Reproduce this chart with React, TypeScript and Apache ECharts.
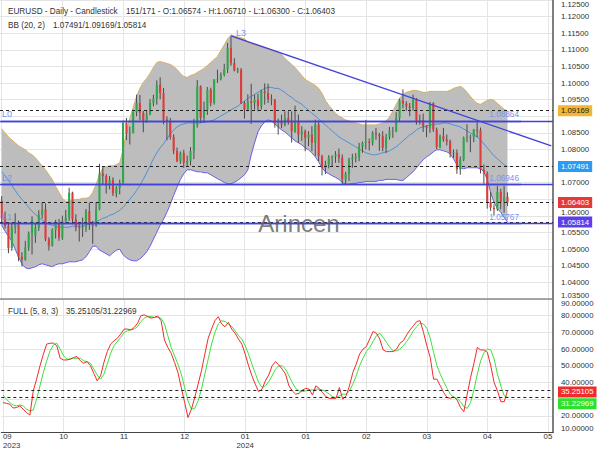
import React, { useEffect, useRef } from 'react';
import * as echarts from 'echarts';

const FONT = "'Liberation Sans', Arial, sans-serif";
const SLOTS = 164;
const TOTAL_SLOTS_LABEL = 171;
const TICK_EVERY = 18;
const xTickLabels = ['09\n2023', '10', '11', '12', '01\n2024', '01', '02', '03', '04', '05'];
// axis tick labels covered by the value boxes in the reference
const hiddenPriceTicks = [1.09, 1.075, 1.065];
const raisedPriceTicks = [1.06];
const hiddenStochTicks = [30];

// [open, close, low, high]
const ohlc: number[][] = [
  [1.0646,1.0592,1.0576,1.0660],[1.0592,1.0570,1.0562,1.0613],[1.0570,1.0503,1.0488,1.0578],[1.0503,1.0566,1.0495,1.0577],[1.0566,1.0573,1.0547,1.0608],
  [1.0573,1.0477,1.0464,1.0586],[1.0477,1.0468,1.0448,1.0491],[1.0468,1.0505,1.0465,1.0525],[1.0505,1.0548,1.0495,1.0553],[1.0548,1.0588,1.0484,1.0599],
  [1.0540,1.0564,1.0519,1.0578],[1.0564,1.0604,1.0555,1.0617],[1.0604,1.0620,1.0592,1.0641],[1.0620,1.0530,1.0524,1.0638],[1.0530,1.0510,1.0496,1.0536],
  [1.0510,1.0557,1.0508,1.0563],[1.0557,1.0577,1.0532,1.0588],[1.0577,1.0535,1.0525,1.0591],[1.0535,1.0585,1.0528,1.0601],[1.0585,1.0595,1.0580,1.0618],
  [1.0595,1.0670,1.0585,1.0685],[1.0670,1.0590,1.0575,1.0673],[1.0590,1.0565,1.0554,1.0605],[1.0565,1.0563,1.0523,1.0578],[1.0563,1.0565,1.0537,1.0595],
  [1.0565,1.0615,1.0552,1.0621],[1.0615,1.0575,1.0558,1.0640],[1.0575,1.0570,1.0516,1.0585],[1.0570,1.0620,1.0567,1.0641],[1.0620,1.0728,1.0617,1.0757],
  [1.0728,1.0720,1.0695,1.0747],[1.0720,1.0697,1.0667,1.0726],[1.0697,1.0709,1.0680,1.0720],[1.0709,1.0668,1.0660,1.0716],[1.0668,1.0684,1.0656,1.0690],
  [1.0684,1.0700,1.0665,1.0709],[1.0700,1.0880,1.0695,1.0887],[1.0880,1.0848,1.0828,1.0895],[1.0848,1.0850,1.0815,1.0869],[1.0850,1.0913,1.0848,1.0915],
  [1.0913,1.0940,1.0900,1.0965],[1.0940,1.0910,1.0888,1.0964],[1.0910,1.0887,1.0852,1.0916],[1.0887,1.0905,1.0880,1.0917],[1.0905,1.0940,1.0903,1.0952],
  [1.0940,1.0953,1.0930,1.0965],[1.0953,1.0995,1.0935,1.1008],[1.0995,1.0970,1.0951,1.1017],[1.0970,1.0890,1.0876,1.0985],[1.0890,1.0884,1.0828,1.0900],
  [1.0884,1.0838,1.0830,1.0895],[1.0838,1.0796,1.0786,1.0846],[1.0796,1.0765,1.0762,1.0806],[1.0765,1.0790,1.0757,1.0794],[1.0790,1.0760,1.0745,1.0799],
  [1.0760,1.0765,1.0748,1.0782],[1.0765,1.0795,1.0752,1.0807],[1.0795,1.0875,1.0771,1.0892],[1.0875,1.0990,1.0866,1.1009],[1.0990,1.0895,1.0880,1.0993],
  [1.0895,1.0920,1.0880,1.0944],[1.0920,1.0980,1.0904,1.0988],[1.0980,1.0940,1.0930,1.0986],[1.0940,1.1010,1.0935,1.1012],[1.1010,1.1012,1.1000,1.1040],
  [1.1012,1.1025,1.1008,1.1032],[1.1025,1.1042,1.1020,1.1058],[1.1042,1.1105,1.1030,1.1121],[1.1105,1.1060,1.1052,1.1140],[1.1060,1.1038,1.1035,1.1075],
  [1.1038,1.1040,1.1030,1.1046],[1.1040,1.0940,1.0937,1.1045],[1.0940,1.0920,1.0893,1.0946],[1.0920,1.0945,1.0915,1.0966],[1.0945,1.0940,1.0877,1.0998],
  [1.0940,1.0950,1.0920,1.0965],[1.0950,1.0930,1.0915,1.0968],[1.0930,1.0975,1.0920,1.0980],[1.0975,1.0970,1.0935,1.0999],[1.0970,1.0950,1.0940,1.0998],
  [1.0950,1.0952,1.0933,1.0966],[1.0950,1.0880,1.0866,1.0952],[1.0880,1.0885,1.0845,1.0893],[1.0885,1.0875,1.0864,1.0905],[1.0875,1.0895,1.0870,1.0915],
  [1.0895,1.0885,1.0875,1.0915],[1.0885,1.0855,1.0821,1.0915],[1.0855,1.0885,1.0850,1.0932],[1.0885,1.0845,1.0820,1.0905],[1.0845,1.0855,1.0826,1.0870],
  [1.0855,1.0835,1.0795,1.0860],[1.0835,1.0845,1.0810,1.0855],[1.0845,1.0820,1.0795,1.0870],[1.0820,1.0875,1.0780,1.0890],[1.0875,1.0780,1.0765,1.0887],
  [1.0780,1.0745,1.0722,1.0784],[1.0745,1.0755,1.0726,1.0766],[1.0755,1.0775,1.0743,1.0783],[1.0775,1.0780,1.0750,1.0782],[1.0780,1.0785,1.0760,1.0795],
  [1.0785,1.0775,1.0760,1.0803],[1.0775,1.0710,1.0696,1.0785],[1.0710,1.0727,1.0695,1.0733],[1.0727,1.0770,1.0705,1.0775],[1.0770,1.0775,1.0745,1.0787],
  [1.0775,1.0777,1.0761,1.0789],[1.0777,1.0808,1.0765,1.0820],[1.0808,1.0820,1.0790,1.0824],[1.0820,1.0823,1.0800,1.0889],[1.0823,1.0820,1.0797,1.0833],
  [1.0820,1.0850,1.0812,1.0855],[1.0850,1.0845,1.0829,1.0865],[1.0845,1.0840,1.0796,1.0850],[1.0840,1.0805,1.0795,1.0855],[1.0805,1.0838,1.0789,1.0847],
  [1.0838,1.0855,1.0830,1.0868],[1.0855,1.0857,1.0835,1.0868],[1.0855,1.0895,1.0852,1.0912],[1.0895,1.0948,1.0885,1.0953],[1.0948,1.0938,1.0924,1.0981],
  [1.0938,1.0930,1.0917,1.0945],[1.0930,1.0925,1.0900,1.0940],[1.0925,1.0950,1.0917,1.0965],[1.0950,1.0883,1.0875,1.0955],[1.0883,1.0888,1.0875,1.0905],
  [1.0888,1.0870,1.0853,1.0908],[1.0870,1.0865,1.0837,1.0873],[1.0865,1.0940,1.0850,1.0943],[1.0940,1.0860,1.0853,1.0942],[1.0860,1.0808,1.0801,1.0866],
  [1.0808,1.0840,1.0804,1.0845],[1.0840,1.0830,1.0823,1.0865],[1.0830,1.0825,1.0812,1.0845],[1.0825,1.0790,1.0776,1.0830],[1.0790,1.0792,1.0775,1.0800],
  [1.0790,1.0740,1.0727,1.0800],[1.0740,1.0770,1.0724,1.0779],[1.0770,1.0835,1.0765,1.0839],[1.0835,1.0837,1.0822,1.0876],[1.0837,1.0838,1.0792,1.0845],
  [1.0838,1.0860,1.0822,1.0862],[1.0860,1.0858,1.0837,1.0885],[1.0858,1.0740,1.0728,1.0866],[1.0740,1.0728,1.0697,1.0755],[1.0728,1.0642,1.0622,1.0734],
  [1.0642,1.0625,1.0615,1.0672],[1.0625,1.0620,1.0601,1.0635],[1.0620,1.0672,1.0615,1.0690],[1.0672,1.0643,1.0620,1.0682],[1.0643,1.0657,1.0610,1.0690],
  [1.06574,1.06403,1.06300,1.06710],
];

const bbUpper = [
  1.0862,1.0850,1.0838,1.0829,1.0820,1.0811,1.0805,1.0799,1.0790,1.0784,
  1.0775,1.0763,1.0751,1.0739,1.0724,1.0710,1.0689,1.0671,1.0653,1.0644,
  1.0644,1.0647,1.0650,1.0650,1.0653,1.0653,1.0656,1.0671,1.0695,1.0724,
  1.0745,1.0748,1.0751,1.0751,1.0754,1.0760,1.0799,1.0853,1.0895,1.0927,
  1.0960,1.0984,1.1002,1.1014,1.1029,1.1047,1.1062,1.1065,1.1062,1.1059,
  1.1056,1.1050,1.1041,1.1029,1.1020,1.1017,1.1023,1.1026,1.1032,1.1038,
  1.1044,1.1053,1.1062,1.1071,1.1080,1.1098,1.1115,1.1133,1.1145,1.1142,
  1.1139,1.1136,1.1133,1.1124,1.1118,1.1115,1.1112,1.1109,1.1106,1.1101,
  1.1098,1.1095,1.1092,1.1086,1.1074,1.1065,1.1056,1.1047,1.1035,1.1023,
  1.1011,1.1005,1.0999,1.0993,1.0984,1.0969,1.0948,1.0933,1.0921,1.0909,
  1.0901,1.0895,1.0889,1.0886,1.0883,1.0880,1.0877,1.0874,1.0874,1.0874,
  1.0874,1.0874,1.0877,1.0880,1.0886,1.0898,1.0915,1.0936,1.0954,1.0966,
  1.0972,1.0975,1.0978,1.0978,1.0975,1.0972,1.0972,1.0975,1.0975,1.0975,
  1.0975,1.0975,1.0975,1.0978,1.0984,1.0987,1.0990,1.0984,1.0972,1.0960,
  1.0948,1.0939,1.0936,1.0942,1.0948,1.0951,1.0948,1.0939,1.0930,1.0921,
  1.09169,
];

const bbMid = [
  1.0733,1.0721,1.0707,1.0692,1.0677,1.0662,1.0650,1.0638,1.0626,1.0614,
  1.0605,1.0596,1.0587,1.0581,1.0575,1.0572,1.0569,1.0566,1.0566,1.0566,
  1.0566,1.0569,1.0569,1.0569,1.0569,1.0572,1.0575,1.0578,1.0584,1.0587,
  1.0593,1.0596,1.0602,1.0605,1.0611,1.0617,1.0626,1.0638,1.0650,1.0662,
  1.0677,1.0692,1.0710,1.0730,1.0751,1.0772,1.0790,1.0805,1.0817,1.0832,
  1.0847,1.0859,1.0868,1.0874,1.0877,1.0880,1.0880,1.0880,1.0880,1.0880,
  1.0883,1.0883,1.0886,1.0889,1.0895,1.0901,1.0907,1.0913,1.0919,1.0925,
  1.0930,1.0939,1.0945,1.0954,1.0960,1.0966,1.0972,1.0978,1.0984,1.0987,
  1.0987,1.0984,1.0984,1.0978,1.0972,1.0963,1.0957,1.0948,1.0942,1.0936,
  1.0927,1.0918,1.0909,1.0901,1.0892,1.0883,1.0874,1.0865,1.0856,1.0847,
  1.0838,1.0832,1.0826,1.0820,1.0814,1.0808,1.0802,1.0796,1.0790,1.0787,
  1.0784,1.0784,1.0787,1.0790,1.0793,1.0796,1.0802,1.0808,1.0817,1.0826,
  1.0835,1.0844,1.0850,1.0859,1.0865,1.0868,1.0871,1.0874,1.0874,1.0877,
  1.0877,1.0880,1.0880,1.0877,1.0874,1.0871,1.0868,1.0862,1.0856,1.0850,
  1.0844,1.0838,1.0829,1.0817,1.0805,1.0793,1.0781,1.0772,1.0763,1.0754,
  1.07491,
];

const bbLower = [
  1.0572,1.0554,1.0539,1.0524,1.0500,1.0477,1.0456,1.0444,1.0441,1.0444,
  1.0447,1.0453,1.0456,1.0453,1.0450,1.0447,1.0453,1.0456,1.0456,1.0459,
  1.0462,1.0462,1.0462,1.0465,1.0468,1.0477,1.0492,1.0509,1.0509,1.0497,
  1.0492,1.0486,1.0480,1.0489,1.0497,1.0500,1.0483,1.0474,1.0468,1.0465,
  1.0465,1.0471,1.0480,1.0492,1.0509,1.0530,1.0551,1.0572,1.0590,1.0611,
  1.0635,1.0662,1.0686,1.0710,1.0727,1.0739,1.0739,1.0736,1.0733,1.0733,
  1.0730,1.0730,1.0724,1.0718,1.0712,1.0707,1.0701,1.0697,1.0697,1.0701,
  1.0707,1.0715,1.0724,1.0739,1.0784,1.0820,1.0853,1.0871,1.0883,1.0889,
  1.0886,1.0877,1.0868,1.0859,1.0853,1.0844,1.0835,1.0826,1.0820,1.0814,
  1.0805,1.0799,1.0790,1.0778,1.0763,1.0745,1.0733,1.0727,1.0721,1.0716,
  1.0710,1.0701,1.0695,1.0695,1.0698,1.0698,1.0701,1.0701,1.0704,1.0704,
  1.0704,1.0704,1.0707,1.0707,1.0710,1.0710,1.0710,1.0710,1.0707,1.0707,
  1.0715,1.0724,1.0733,1.0745,1.0757,1.0769,1.0778,1.0784,1.0793,1.0799,
  1.0799,1.0796,1.0793,1.0787,1.0772,1.0754,1.0745,1.0742,1.0745,1.0745,
  1.0745,1.0745,1.0742,1.0733,1.0710,1.0671,1.0641,1.0623,1.0611,1.0596,
  1.05814,
];

const stochK = [
  28,27.5,27,24.7,25,26,24,22,20.5,35, 42,50,57,63,63.5,63.6,62,54.5,53.5,53.5,
  54,55,55.5,53,51.5,52.5,50,45.5,41,44, 52,58.5,63,65,66.5,69,72,72,71.5,73,
  75.5,80,80.5,79.5,78.5,79,79.8,77,65.5,61, 57.5,52,46,37,28,19,24,31,39,47,
  57,66.5,72,77,79.4,75,73.4,76,72,69.5, 66,63,57,50,44,39,34.5,36,41,44.5,
  50,52.5,50.5,48,45,38,35,33,33.5,35.5, 36.5,36,32.5,38,36.5,34,31.5,30.5,30.5,30.5,
  37,30,32,38,46,51,57,60,61.5,66, 70.5,69.5,66,59.5,58.5,58.5,58.5,60,63.5,65,
  68.5,71.5,74,76.5,77,70,62,55,42,42, 38,34,31,30.5,31.5,29.5,25,22.5,33,43,
  51.5,61,59.5,59.5,58,50,40,35,28.5,28.5, 35.25105,
];

const stochD = [
  32.5,30,28,26.5,26,26.5,26,24,23,23.5, 30,38,46,53,59,62.5,63.5,60,56,54,
  54,54.5,54.5,54.5,53,52.5,51.5,48,44.5,42, 45,51,57.5,62,64.5,67,70,71,71.5,72,
  73.5,76.5,78.5,79.5,79.5,79,79,78.5,75,68, 61,56,51,45,37,29,24,24.5,29,36,
  45,54,63,70,75,77,76.5,75,73.5,71, 68,66,62,57,51,45.5,40,37,38,40.5,
  44,48,50,50,48,44,40,36.5,35,34.5, 35,35.5,35.5,36,36,35.5,34.5,33,31.5,31,
  32,33,33,35,39,44,50,54.5,58.5,61, 64.5,68,69.5,67,64,61,59,59,60,62,
  64.5,67.5,71,73.5,75.5,75,72.5,66.5,58,50, 45,40.5,36.5,33,31,30.5,28.5,25.5,24.5,28,
  35.5,45,53,58,60,59.5,54,45,38,32, 31.22969,
];

// horizontal levels drawn by the user
const levelNames = ['L0', 'L2', 'L1'];
const levelValues = [1.08864, 1.06946, 1.05767];
const levelLabelIndex = 154;
// trend line L3: [category index, price]
const trendStart = [68, 1.1142];
const trendEnd = [163, 1.0811];
const trendLabelAt = [71, 1.1151];

const GREEN = '#2fa84a';
const RED = '#df3b3b';
const LEVEL_BLUE = '#4141dc';
const LABEL_BLUE = '#7892f2';

const inList = (v: number, list: number[]) => list.some((h) => Math.abs(h - v) < 1e-7);

export default function App() {
  const ref = useRef<HTMLDivElement>(null);
  useEffect(() => {
    const chart = echarts.init(ref.current!, null, { renderer: 'svg' });
    const last = ohlc.length - 1;
    const lastBar = ohlc[last];
    const slots = Array.from({ length: SLOTS }, (_, i) => String(i));
    const candleData = ohlc.map((d, i) => [i, d[0], d[1], d[2], d[3]]);
    const bandWidth = bbUpper.map((u, i) => u - bbLower[i]);

    const boxLabel = (text: string, bg: string, fg: string, offsetY = 0) => ({
      show: true,
      position: 'end',
      formatter: text,
      backgroundColor: bg,
      color: fg,
      padding: [2, 3, 1, 3],
      fontSize: 7.8,
      fontFamily: FONT,
      distance: 5,
      offset: [0, offsetY],
    });
    const dotted = { type: [3, 3], color: '#222', width: 1 };

    const mainMarkLines: any[] = [
      { yAxis: bbUpper[last], lineStyle: dotted, label: boxLabel(bbUpper[last].toFixed(5), '#f2b632', '#222') },
      { yAxis: bbMid[last], lineStyle: dotted, label: boxLabel(bbMid[last].toFixed(5), '#2b9cf2', '#fff') },
      { yAxis: lastBar[1], lineStyle: dotted, label: boxLabel(lastBar[1].toFixed(5), '#e53935', '#fff') },
      { yAxis: bbLower[last], lineStyle: dotted, label: boxLabel(bbLower[last].toFixed(5), '#5a40e6', '#fff') },
    ];
    levelValues.forEach((v, k) => {
      mainMarkLines.push({
        yAxis: v,
        lineStyle: { type: 'solid', color: LEVEL_BLUE, width: 1.3 },
        label: { show: true, position: 'insideStartTop', formatter: levelNames[k], color: LABEL_BLUE, fontSize: 9, distance: 2, fontFamily: FONT },
      });
      mainMarkLines.push([
        { coord: [0, v], lineStyle: { type: 'solid', color: LEVEL_BLUE, width: 1.3 },
          label: { show: true, position: 'insideEndTop', formatter: v.toFixed(5), color: LABEL_BLUE, fontSize: 8.2, distance: 2, fontFamily: FONT } },
        { coord: [levelLabelIndex, v] },
      ]);
    });
    mainMarkLines.push([
      { coord: trendStart, lineStyle: { type: 'solid', color: LEVEL_BLUE, width: 1.3 }, label: { show: false } },
      { coord: trendEnd },
    ]);

    const option: any = {
      animation: false,
      backgroundColor: '#ffffff',
      textStyle: { fontFamily: FONT },
      grid: [
        { left: 0, top: 0, right: 47, height: 299 },
        { left: 0, top: 299, right: 47, height: 133.6 },
      ],
      xAxis: [
        {
          type: 'category', gridIndex: 0, data: slots, boundaryGap: true,
          axisLine: { show: true, lineStyle: { color: '#8a8a8a', width: 1.5 } },
          axisTick: { show: false, alignWithLabel: true },
          axisLabel: { show: false, interval: TICK_EVERY - 1 },
          splitLine: { show: true, interval: TICK_EVERY - 1, alignWithLabel: true, lineStyle: { color: '#e4e4e4', width: 1 } },
        },
        {
          type: 'category', gridIndex: 1, data: slots, boundaryGap: true,
          axisLine: { show: true, lineStyle: { color: '#444', width: 1 } },
          axisTick: { show: false, alignWithLabel: true },
          axisLabel: {
            interval: TICK_EVERY - 1,
            formatter: (_v: string, i: number) => xTickLabels[Math.round(i / TICK_EVERY)] ?? '',
            fontSize: 7.8, color: '#333', lineHeight: 8.5, margin: 0,
            alignMinLabel: 'left',
          },
          splitLine: { show: true, interval: TICK_EVERY - 1, alignWithLabel: true, lineStyle: { color: '#e4e4e4', width: 1 } },
        },
      ],
      yAxis: [
        {
          type: 'value', gridIndex: 0, position: 'right', min: 1.035, max: 1.125, interval: 0.005,
          axisLine: { show: true, lineStyle: { color: '#555', width: 1.5 } },
          axisTick: { show: false },
          axisLabel: {
            formatter: (v: number) => {
              if (inList(v, hiddenPriceTicks)) return '';
              if (inList(v, raisedPriceTicks)) return `{up|${v.toFixed(5)}}`;
              return v.toFixed(5);
            },
            rich: { up: { fontSize: 7.8, color: '#333', padding: [0, 0, 7, 0] } },
            fontSize: 7.8, color: '#333', margin: 8,
            verticalAlignMaxLabel: 'top', verticalAlignMinLabel: 'bottom',
          },
          splitLine: { show: true, lineStyle: { color: '#e4e4e4', width: 1 } },
        },
        {
          type: 'value', gridIndex: 1, position: 'right', min: 10, max: 90, interval: 10,
          axisLine: { show: true, lineStyle: { color: '#555', width: 1.5 } },
          axisTick: { show: false },
          axisLabel: { formatter: (v: number) => (inList(v, hiddenStochTicks) ? '' : v.toFixed(5)), fontSize: 7.8, color: '#333', margin: 8,
            verticalAlignMaxLabel: 'top', verticalAlignMinLabel: 'bottom' },
          splitLine: { show: true, lineStyle: { color: '#e4e4e4', width: 1 } },
        },
      ],
      series: [
        {
          name: 'bbBand', type: 'line', xAxisIndex: 0, yAxisIndex: 0, stack: 'bb', data: bbLower,
          symbol: 'none', silent: true, z: 2, lineStyle: { color: '#6a5ee6', width: 1 },
        },
        {
          name: 'bbUpperArea', type: 'line', xAxisIndex: 0, yAxisIndex: 0, stack: 'bb', data: bandWidth,
          symbol: 'none', silent: true, z: 1, lineStyle: { color: '#d9b062', width: 1 },
          areaStyle: { color: '#bdbdbd', opacity: 1 },
        },
        {
          name: 'bbMid', type: 'line', xAxisIndex: 0, yAxisIndex: 0, data: bbMid,
          symbol: 'none', silent: true, z: 2, lineStyle: { color: '#4d8fd8', width: 1 },
        },
        {
          name: 'candles', type: 'custom', xAxisIndex: 0, yAxisIndex: 0, data: candleData, z: 3, clip: true,
          encode: { x: 0, y: [1, 2, 3, 4] },
          renderItem: (_p: any, api: any) => {
            const i = api.value(0);
            const o = api.value(1), c = api.value(2), l = api.value(3), h = api.value(4);
            const pO = api.coord([i, o]);
            const pC = api.coord([i, c]);
            const pL = api.coord([i, l]);
            const pH = api.coord([i, h]);
            const w = Math.max(1, api.size([1, 0])[0] * 0.62);
            const xc = pO[0];
            const top = Math.min(pO[1], pC[1]);
            const hgt = Math.max(1, Math.abs(pO[1] - pC[1]));
            return {
              type: 'group',
              children: [
                { type: 'line', shape: { x1: xc, y1: pH[1], x2: xc, y2: pL[1] }, style: { stroke: '#4a4a4a', lineWidth: 1 } },
                { type: 'rect', shape: { x: xc - w / 2, y: top, width: w, height: hgt }, style: { fill: c >= o ? GREEN : RED } },
              ],
            };
          },
        },
        {
          name: 'overlay', type: 'line', xAxisIndex: 0, yAxisIndex: 0, data: [], z: 5, silent: true,
          markLine: { symbol: ['none', 'none'], silent: true, animation: false, precision: 5, data: mainMarkLines },
          markPoint: {
            silent: true, animation: false,
            data: [{ coord: trendLabelAt, symbol: 'circle', symbolSize: 0,
              label: { show: true, position: 'inside', formatter: 'L3', color: LABEL_BLUE, fontSize: 9, fontFamily: FONT } }],
          },
        },
        {
          name: '%K', type: 'line', xAxisIndex: 1, yAxisIndex: 1, data: stochK, symbol: 'none', z: 3,
          lineStyle: { color: '#ee2b2b', width: 1 },
          markLine: { symbol: ['none', 'none'], silent: true, animation: false,
            data: [{ yAxis: stochK[last], lineStyle: dotted, label: boxLabel(stochK[last].toFixed(5), '#f02b2b', '#fff', 1.5) }] },
        },
        {
          name: '%D', type: 'line', xAxisIndex: 1, yAxisIndex: 1, data: stochD, symbol: 'none', z: 2,
          lineStyle: { color: '#3ee03e', width: 1 },
          markLine: { symbol: ['none', 'none'], silent: true, animation: false,
            data: [{ yAxis: stochD[last], lineStyle: dotted, label: boxLabel(stochD[last].toFixed(5), '#2fe02f', '#fff', 6.5) }] },
        },
      ],
      graphic: [
        { type: 'text', x: 8, y: 11, z: 50, style: { text: 'EURUSD - Daily - Candlestick', fontSize: 8.2, fontFamily: FONT, fill: '#333', verticalAlign: 'middle' } },
        { type: 'text', x: 126, y: 11, z: 50, style: {
          text: `${ohlc.length}/${TOTAL_SLOTS_LABEL} - O:${lastBar[0].toFixed(5)} - H:${lastBar[3].toFixed(5)} - L:${lastBar[2].toFixed(5)} - C:${lastBar[1].toFixed(5)}`,
          fontSize: 8.2, fontFamily: FONT, fill: '#333', verticalAlign: 'middle' } },
        { type: 'text', x: 8, y: 25, z: 50, style: { text: 'BB (20, 2)', fontSize: 8.2, fontFamily: FONT, fill: '#333', verticalAlign: 'middle' } },
        { type: 'text', x: 53, y: 25, z: 50, style: {
          text: `${bbMid[last].toFixed(5)}/${bbUpper[last].toFixed(5)}/${bbLower[last].toFixed(5)}`,
          fontSize: 8.2, fontFamily: FONT, fill: '#333', verticalAlign: 'middle' } },
        { type: 'text', x: 8, y: 311, z: 50, style: { text: 'FULL (5, 8, 3)', fontSize: 8.2, fontFamily: FONT, fill: '#333', verticalAlign: 'middle' } },
        { type: 'text', x: 66, y: 311, z: 50, style: {
          text: `${stochK[last].toFixed(5)}/${stochD[last].toFixed(5)}`,
          fontSize: 8.2, fontFamily: FONT, fill: '#333', verticalAlign: 'middle' } },
        { type: 'text', x: 299, y: 223, z: 100, style: { text: 'Arincen', fontSize: 24, fontFamily: FONT, fill: 'rgba(90,90,90,0.8)', align: 'center', verticalAlign: 'middle' } },
      ],
    };
    chart.setOption(option);
    return () => chart.dispose();
  }, []);
  return <div ref={ref} style={{ position: 'fixed', left: 0, top: 0, width: 600, height: 450, background: '#fff' }} />;
}
